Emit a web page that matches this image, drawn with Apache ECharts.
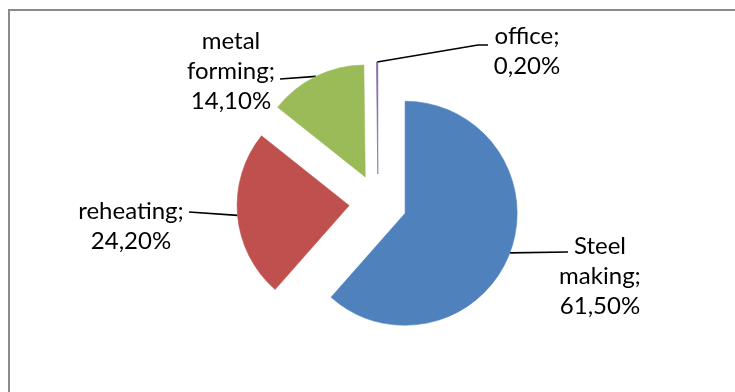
<!DOCTYPE html>
<html>
<head>
<meta charset="utf-8">
<script src="https://cdn.jsdelivr.net/npm/echarts@6/dist/echarts.min.js"></script>
<style>
  html, body { margin: 0; padding: 0; background: #ffffff; }
  #chart { width: 735px; height: 392px; }
</style>
</head>
<body>
<div id="chart"></div>
<script>
// Energy use by process (share of total, %)
const categories = ['Steel making', 'reheating', 'metal forming', 'office'];
const shares = [61.5, 24.2, 14.1, 0.2];
const colors = ['#4F81BD', '#C0504D', '#9BBB59', '#8064A2'];

// Pie geometry: common centre, radius and how far every slice is pulled out
const CX = 378, CY = 203, RADIUS = 112, EXPLODE = 29;

// Label box centres and the leader line points that follow the arc anchor
const labelPlace = [
  { x: 600, y: 276, line: [[568, 252], [568, 252]] },
  { x: 131, y: 226, line: [[189, 212], [189, 212]] },
  { x: 231, y: 71,  line: [[280, 79],  [280, 79]] },
  { x: 527, y: 51,  line: [[478, 45],  [488, 45]] }
];

const fmtShare = v => v.toFixed(2).replace('.', ',') + '%';

const total = shares.reduce((a, b) => a + b, 0);

// Every slice gets its own series whose centre is shifted along the slice's mid angle
const series = categories.map((name, i) => {
  const before = shares.slice(0, i).reduce((a, b) => a + b, 0);
  const midFrac = (before + shares[i] / 2) / total;
  const ang = midFrac * 2 * Math.PI;          // clockwise from 12 o'clock
  const cx = CX + EXPLODE * Math.sin(ang);
  const cy = CY - EXPLODE * Math.cos(ang);
  return {
    type: 'pie',
    silent: true,
    startAngle: 90,
    clockwise: true,
    center: [cx, cy],
    radius: [0, RADIUS],
    avoidLabelOverlap: false,
    emphasis: { disabled: true },
    animation: false,
    label: {
      show: true,
      position: 'outside',
      color: '#000000',
      fontFamily: 'Lato',
      fontSize: 24,
      lineHeight: 30,
      formatter: p => p.name.replace(' ', '\n') + ';\n' + fmtShare(p.value)
    },
    labelLine: {
      show: true,
      length: 10,
      length2: 10,
      lineStyle: { color: '#000000', width: 1.6 }
    },
    labelLayout: params => {
      if (params.dataIndex !== i) return {};
      const pl = labelPlace[i];
      const start = params.labelLinePoints ? params.labelLinePoints[0] : pl.line[0];
      return {
        x: pl.x,
        y: pl.y,
        align: 'center',
        verticalAlign: 'middle',
        labelLinePoints: [start, pl.line[0], pl.line[1]]
      };
    },
    data: categories.map((n, j) => {
      const item = { name: n, value: shares[j] };
      if (j === i) {
        // a hairline outline in the slice colour keeps the tiny slice visible
        item.itemStyle = { color: colors[j], borderColor: colors[j], borderWidth: 0.6 };
      } else {
        item.itemStyle = { color: 'rgba(0,0,0,0)', borderWidth: 0 };
        item.label = { show: false };
        item.labelLine = { show: false };
      }
      return item;
    })
  };
});

const chart = echarts.init(document.getElementById('chart'), null, { renderer: 'canvas' });
chart.setOption({
  backgroundColor: '#ffffff',
  animation: false,
  graphic: [{
    type: 'rect',
    silent: true,
    shape: { x: 9, y: 10, width: 760, height: 420 },
    style: { fill: 'none', stroke: '#8a8a8a', lineWidth: 2 }
  }],
  series: series
});
</script>
</body>
</html>
